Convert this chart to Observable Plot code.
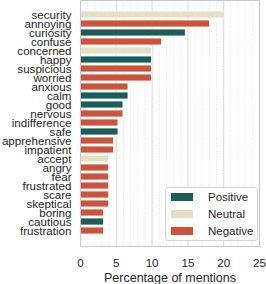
<!DOCTYPE html>
<html><head><meta charset="utf-8">
<script src="https://cdn.jsdelivr.net/npm/d3@7"></script>
<script src="https://cdn.jsdelivr.net/npm/@observablehq/plot@0.6"></script>
<style>
body{margin:0;background:#fff;}
#wrap{position:relative;width:266px;height:284px;font-family:"Liberation Sans",Arial,sans-serif;color:#262626;}
#legend{position:absolute;left:165px;top:187px;width:93px;height:54px;border:1px solid #d4d4d4;border-radius:3px;background:rgba(255,255,255,0.85);box-sizing:border-box;}
.item{position:absolute;left:5px;height:14px;font-size:11.5px;line-height:14px;}
.sw{position:absolute;left:0;top:3px;width:22px;height:8px;}
.lab{position:absolute;left:37px;top:0;white-space:nowrap;}
</style>
</head><body>
<div id="wrap"></div>
<script>
const labels = ["security","annoying","curiosity","confuse","concerned","happy","suspicious","worried","anxious","calm","good","nervous","indifference","safe","apprehensive","impatient","accept","angry","fear","frustrated","scare","skeptical","boring","cautious","frustration"];
const sentiments = ["Neutral","Negative","Positive","Negative","Neutral","Positive","Negative","Negative","Negative","Positive","Positive","Negative","Negative","Positive","Negative","Negative","Neutral","Negative","Negative","Negative","Negative","Negative","Negative","Positive","Negative"];
const values = [20.2,18.1,14.7,11.4,10.0,10.0,10.0,10.0,6.7,6.7,6.0,6.0,5.3,5.3,4.7,4.7,4.0,4.0,4.0,4.0,4.0,4.0,3.3,3.3,3.3];
const categories = ["Positive","Neutral","Negative"];
const colors = ["#1d5d58","#e4e0c5","#c9553e"];
const majorTicks = [5,10,15,20];
const minorTicks = d3.range(1,25).filter(t => t % 5 !== 0);
const xTicks = [0,5,10,15,20,25];

const data = labels.map((l,i)=>({label:l, sentiment:sentiments[i], value:values[i]}));

const chart = Plot.plot({
  width: 266, height: 284,
  marginLeft: 80, marginRight: 7, marginTop: 0, marginBottom: 38,
  style: {fontFamily: '"Liberation Sans", Arial, sans-serif', fontSize: "11.6px", color: "#262626", background: "#fff"},
  x: {domain: [0,25], ticks: xTicks, label: "Percentage of mentions", labelAnchor: "center", labelArrow: "none", labelOffset: 35, tickSize: 0, tickPadding: 12},
  y: {domain: labels, padding: 0.2, label: null, tickSize: 0, tickPadding: 9},
  color: {domain: categories, range: colors},
  marks: [
    Plot.ruleX(minorTicks, {stroke: "#d9d9d9", strokeDasharray: "1,1.6", strokeWidth: 0.8}),
    Plot.ruleX(majorTicks, {stroke: "#d9d9d9", strokeWidth: 1}),
    Plot.barX(data, {x: "value", y: "label", fill: "sentiment", stroke: "#fff", strokeWidth: 0.8}),
    Plot.frame({stroke: "#c8c8c8", strokeWidth: 1})
  ]
});
document.getElementById("wrap").appendChild(chart);
const axisLabel = chart.querySelector('[aria-label="x-axis label"] text');
if (axisLabel) axisLabel.style.fontSize = "12.5px";

const legend = document.createElement("div");
legend.id = "legend";
categories.forEach((c,i)=>{
  const it = document.createElement("div");
  it.className = "item";
  it.style.top = (2 + i*17) + "px";
  it.innerHTML = `<span class="sw" style="background:${colors[i]}"></span><span class="lab">${c}</span>`;
  legend.appendChild(it);
});
document.getElementById("wrap").appendChild(legend);
</script>
</body></html>
